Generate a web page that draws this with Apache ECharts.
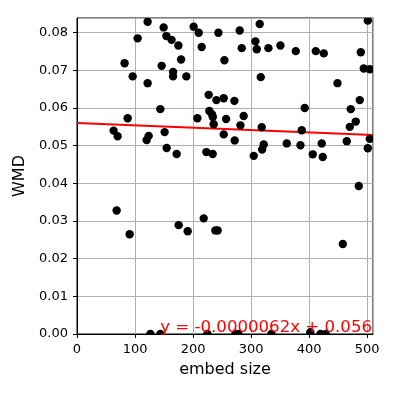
<!DOCTYPE html>
<html>
<head>
<meta charset="utf-8">
<script src="https://cdn.jsdelivr.net/npm/echarts@6/dist/echarts.min.js"></script>
<style>
  html, body { margin: 0; padding: 0; background: #fff; }
  #chart { width: 393px; height: 393px; }
</style>
</head>
<body>
<div id="chart"></div>
<script>
var embedSize = [
  121.7, 149.3, 104.5, 154, 163, 174.7, 201, 209.7, 243.6, 214.8,
  82, 179.3, 95.9, 145.9, 165.5, 165.5, 188.4, 121.7, 226.9, 240.2,
  143.6, 228, 232.8, 234, 235.5, 87.3, 207.4, 63.1, 70, 123.5,
  120, 151, 154.5, 171.7, 222.9, 233.8, 280.3, 314.8, 307.4, 309.7,
  283.8, 329.8, 350.5, 376.9, 411.4, 425.2, 489, 501, 254, 316.6,
  494.1, 504.5, 448.8, 252.8, 271.2, 487.2, 392.4, 471.7, 256.9, 287.2,
  281.6, 480.3, 470, 318.3, 387.2, 504.5, 252.8, 271.7, 361.4, 385,
  421.7, 464.8, 321.7, 319, 501, 304.5, 406.2, 423.4, 68.3, 90.7,
  175.2, 190.7, 218.3, 238.4, 242.4, 485.5, 458, 126.4, 143.6, 224.7,
  273, 278, 335, 402, 419.5, 428.5
];
var wmd = [
  0.0829, 0.0814, 0.0785, 0.0791, 0.0781, 0.0766, 0.0816, 0.0800, 0.0800, 0.0762,
  0.0719, 0.0729, 0.0684, 0.0712, 0.0696, 0.0684, 0.0684, 0.0666, 0.0635, 0.0621,
  0.0597, 0.0592, 0.0583, 0.0576, 0.0557, 0.0573, 0.0573, 0.0540, 0.0525, 0.0526,
  0.0515, 0.0536, 0.0494, 0.0478, 0.0483, 0.0478, 0.0806, 0.0823, 0.0777, 0.0756,
  0.0759, 0.0759, 0.0766, 0.0751, 0.0751, 0.0745, 0.0748, 0.0832, 0.0727, 0.0682,
  0.0705, 0.0703, 0.0666, 0.0626, 0.0619, 0.0621, 0.0600, 0.0597, 0.0571, 0.0579,
  0.0554, 0.0564, 0.0550, 0.0549, 0.0541, 0.0518, 0.0530, 0.0514, 0.0506, 0.0501,
  0.0506, 0.0512, 0.0503, 0.0490, 0.0493, 0.0473, 0.0477, 0.0470, 0.0328, 0.0265,
  0.0289, 0.0273, 0.0307, 0.0275, 0.0275, 0.0393, 0.0239, 0, 0, 0,
  0, 0, 0, 0.0005, 0, 0
];
var slope = -0.0000062;
var intercept = 0.056;
var xRange = [0, 510];
var yRange = [0, 0.0839];
var yTicks = ['0.00', '0.01', '0.02', '0.03', '0.04', '0.05', '0.06', '0.07', '0.08'];
var fitLabel = 'y = -0.0000062x + 0.056';

var points = embedSize.map(function (x, i) { return [x, wmd[i]]; });
var fitLine = xRange.map(function (x) { return [x, slope * x + intercept]; });

var font = 'DejaVu Sans';
var myChart = echarts.init(document.getElementById('chart'));
var option = {
  animation: false,
  grid: {
    left: 77, right: 20, top: 18, bottom: 59,
    show: true, borderColor: '#000', borderWidth: 1
  },
  xAxis: {
    type: 'value',
    min: xRange[0], max: xRange[1], interval: 100,
    name: 'embed size', nameLocation: 'middle', nameGap: 28,
    nameTextStyle: { fontFamily: font, fontSize: 16, color: '#000' },
    axisLine: { show: true, onZero: false, lineStyle: { color: '#000', width: 1 } },
    axisTick: { show: true, length: 4, lineStyle: { color: '#000' } },
    axisLabel: { fontFamily: font, fontSize: 13, color: '#000', margin: 9, showMaxLabel: false },
    splitLine: { show: true, lineStyle: { color: '#b0b0b0', width: 1 } }
  },
  yAxis: {
    type: 'value',
    min: yRange[0], max: yRange[1], interval: 0.01,
    name: 'WMD', nameLocation: 'middle', nameGap: 47,
    nameTextStyle: { fontFamily: font, fontSize: 16, color: '#000' },
    axisLine: { show: true, onZero: false, lineStyle: { color: '#000', width: 1 } },
    axisTick: { show: true, length: 4, lineStyle: { color: '#000' } },
    axisLabel: {
      fontFamily: font, fontSize: 13, color: '#000', margin: 9, showMaxLabel: false,
      formatter: function (v) { return yTicks[Math.round(v * 100)] || ''; }
    },
    splitLine: { show: true, lineStyle: { color: '#b0b0b0', width: 1 } }
  },
  series: [
    {
      type: 'line',
      data: fitLine,
      symbol: 'none',
      lineStyle: { color: '#ff0000', width: 2 },
      z: 3
    },
    {
      type: 'custom',
      data: points,
      clip: true,
      z: 4,
      renderItem: function (params, api) {
        var p = api.coord([api.value(0), api.value(1)]);
        return {
          type: 'circle',
          shape: { cx: p[0], cy: p[1], r: 4.2 },
          style: { fill: '#000' }
        };
      }
    }
  ],
  graphic: [
    {
      type: 'text',
      z: 10,
      style: {
        x: 372, y: 336,
        text: fitLabel,
        fill: '#ff0000',
        font: '16.6px "DejaVu Sans"',
        align: 'right',
        verticalAlign: 'bottom'
      }
    }
  ]
};
myChart.setOption(option);
</script>
</body>
</html>
